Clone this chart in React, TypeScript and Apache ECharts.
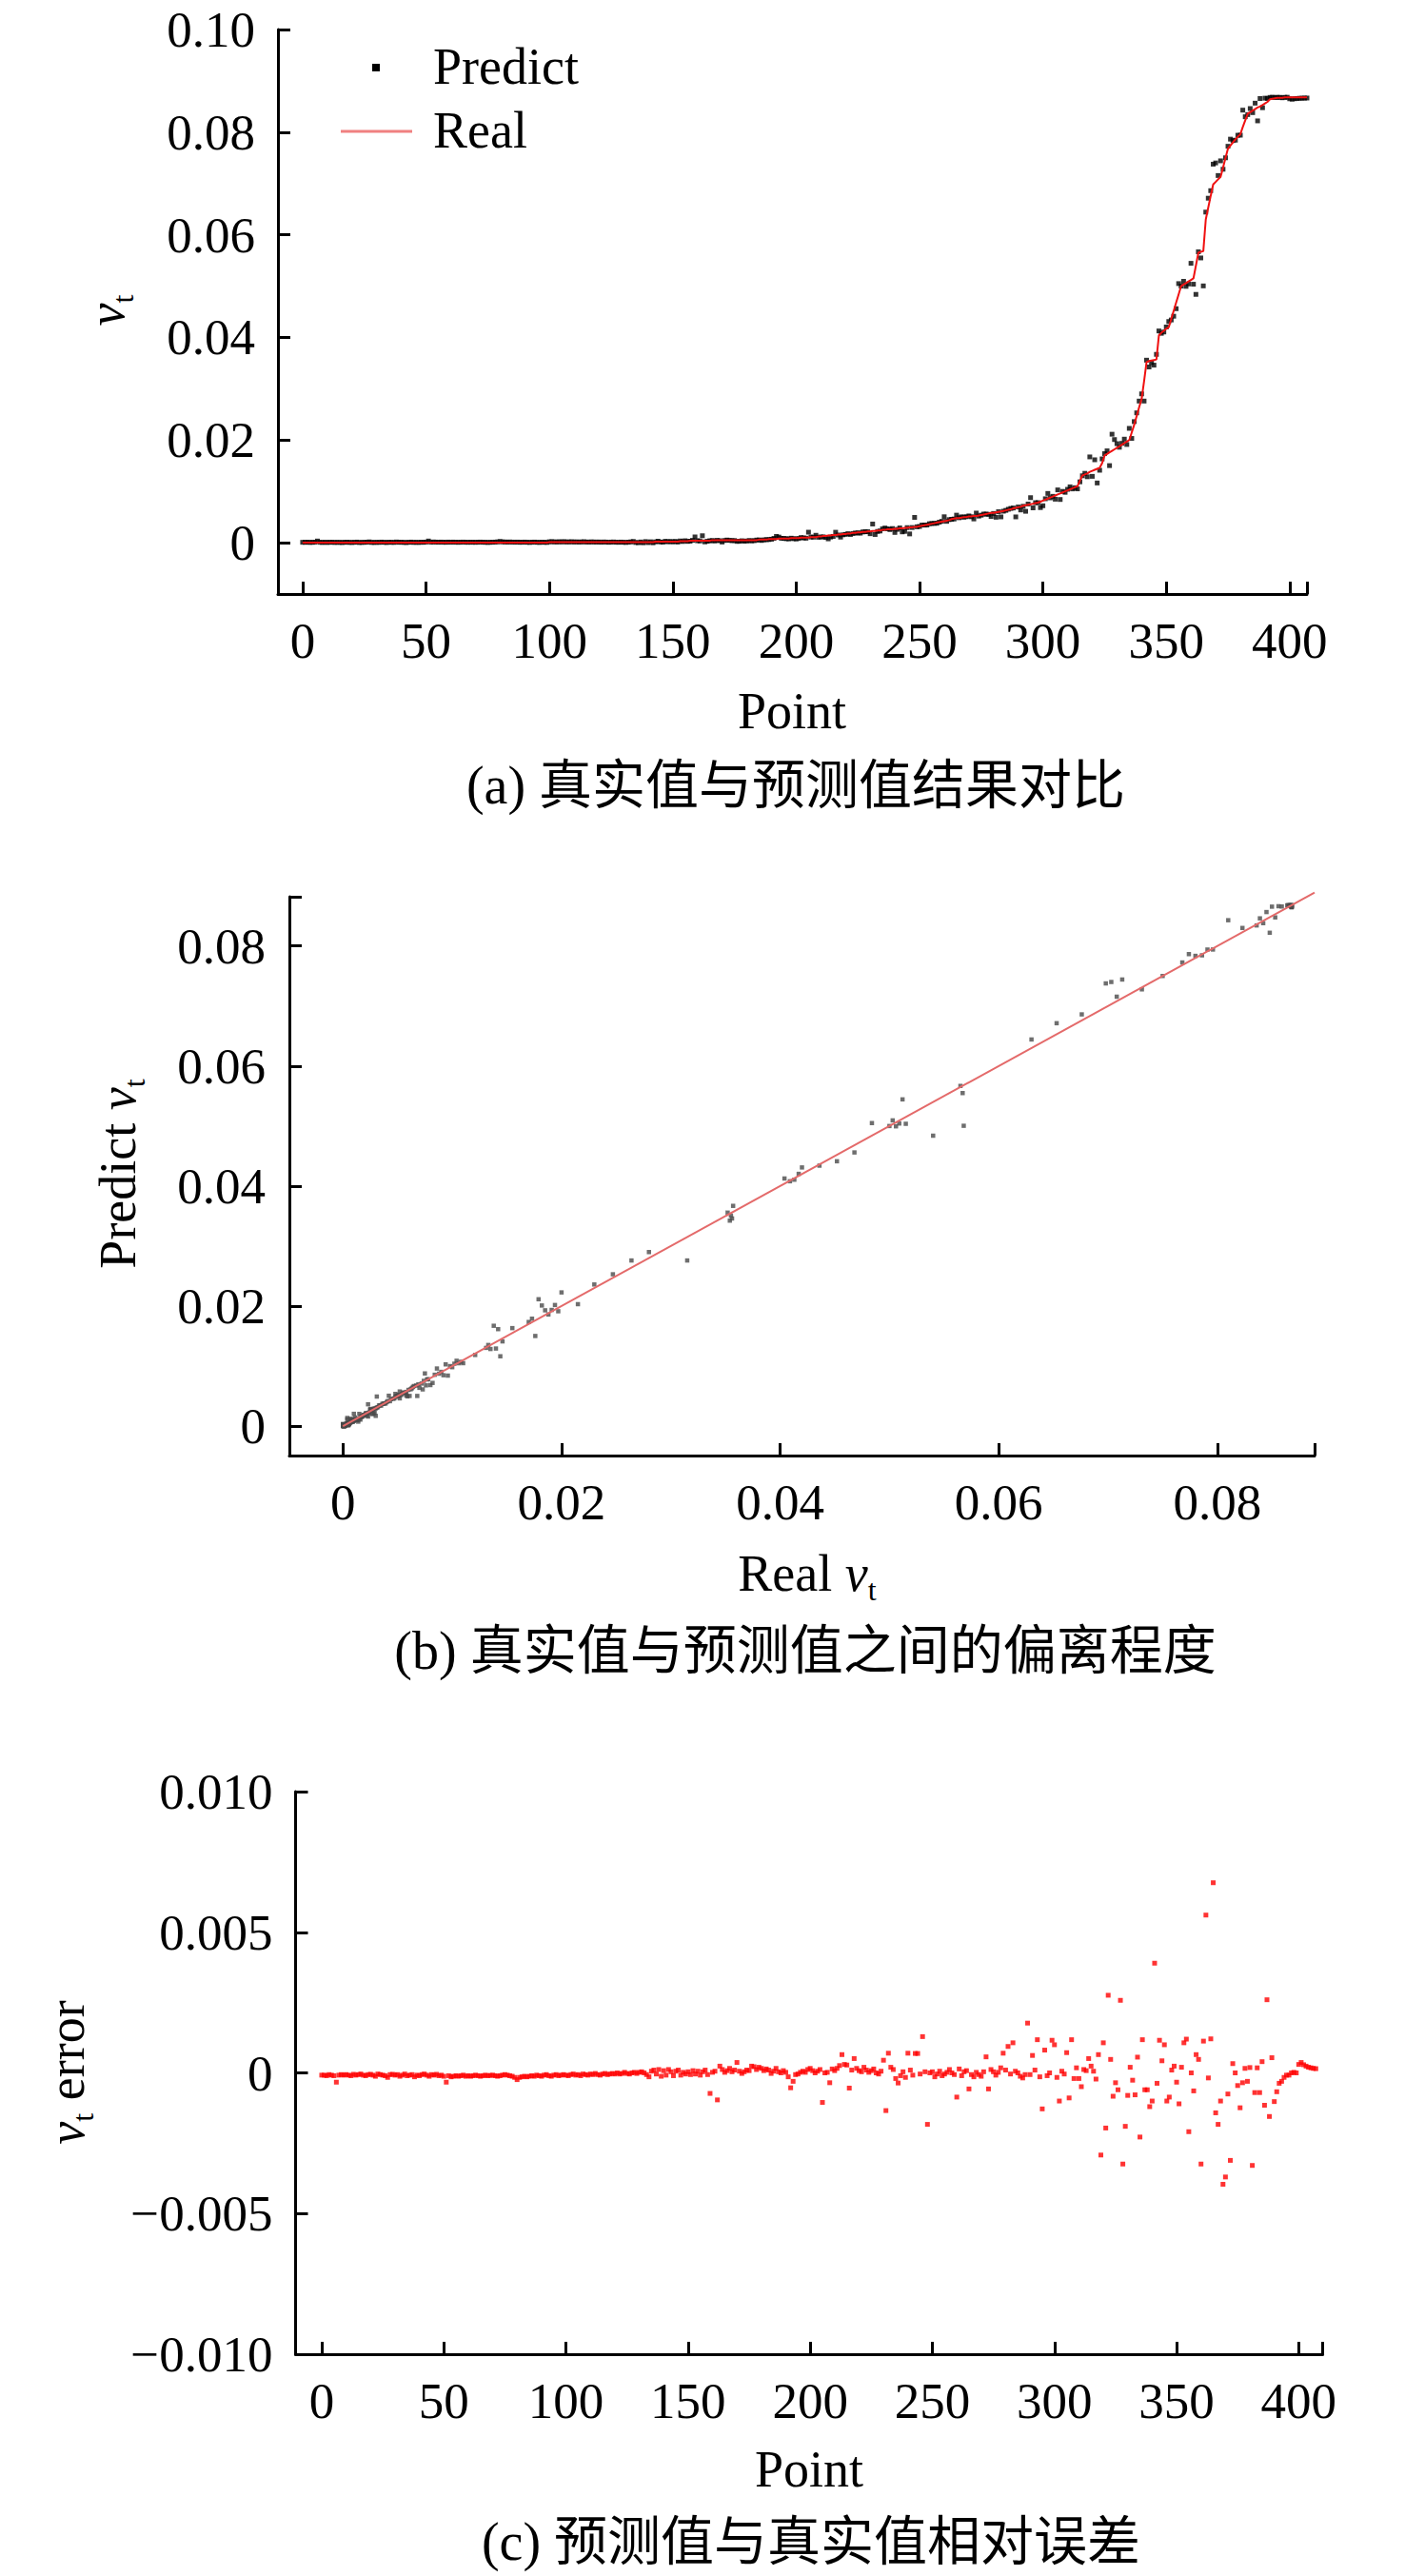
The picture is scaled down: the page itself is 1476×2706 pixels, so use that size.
import React, { useEffect, useRef } from 'react';
import * as echarts from 'echarts';

// Real v_t per point (index 0..407)
const REAL: number[] = [
  0,0,0,0,0,0,0,0,0,0,
  0,0,0,0,0,0,0,0,0,0,
  0,0,0,0,0,0,0,0,0,0,
  0,0,0,0,0,0,0,0,0,0,
  0,0,0,0,0,0,0,0,0,0,
  0,0,0,0,0,0,0,0,0,0,
  0,0,0,0,0,0,0,0,0,0,
  0,0,0,0,0,0,0,0,0,0,
  0,0,0,0,0,0,0,0,0,0,
  0,0,0,0,0,0,0,0,0,0,
  0.0001,0.0001,0.0001,0.0001,0.0001,0.0001,0.0001,0.0001,0.0001,0.0001,
  0.0001,0.0001,0.0001,0.0001,0.0001,0.0001,0.0001,0.0001,0.0001,0.0001,
  0.0001,0.0001,0.0001,0.0001,0.0001,0.0001,0.0001,0.0001,0.0001,0.0001,
  0.0001,0.0001,0.0001,0.0001,0.0001,0.0001,0.0001,0.0001,0.0001,0.0001,
  0.0001,0.0001,0.0001,0.0002,0.0002,0.0002,0.0002,0.0002,0.0002,0.0002,
  0.0002,0.0002,0.0002,0.0003,0.0003,0.0003,0.0003,0.0004,0.0004,0.0004,
  0.0004,0.0004,0.0004,0.0004,0.0004,0.0004,0.0005,0.0005,0.0005,0.0005,
  0.0005,0.0005,0.0005,0.0005,0.0005,0.0005,0.0005,0.0005,0.0005,0.0005,
  0.0005,0.0005,0.0005,0.0005,0.0005,0.0006,0.0006,0.0006,0.0006,0.0007,
  0.0007,0.0007,0.0007,0.0008,0.0008,0.0008,0.0008,0.0008,0.0009,0.0009,
  0.0009,0.0009,0.0010,0.0010,0.0010,0.0010,0.0011,0.0011,0.0011,0.0012,
  0.0012,0.0013,0.0013,0.0014,0.0014,0.0015,0.0015,0.0016,0.0016,0.0017,
  0.0017,0.0018,0.0018,0.0019,0.0019,0.0020,0.0020,0.0021,0.0021,0.0022,
  0.0022,0.0023,0.0023,0.0024,0.0024,0.0025,0.0025,0.0026,0.0026,0.0026,
  0.0027,0.0027,0.0028,0.0028,0.0029,0.0029,0.0030,0.0030,0.0031,0.0031,
  0.0032,0.0033,0.0034,0.0035,0.0036,0.0037,0.0038,0.0039,0.0040,0.0041,
  0.0042,0.0043,0.0044,0.0046,0.0047,0.0048,0.0048,0.0049,0.0050,0.0050,
  0.0051,0.0051,0.0052,0.0052,0.0053,0.0054,0.0055,0.0056,0.0057,0.0058,
  0.0058,0.0059,0.0060,0.0061,0.0062,0.0063,0.0064,0.0065,0.0067,0.0068,
  0.0069,0.0070,0.0072,0.0073,0.0074,0.0075,0.0076,0.0077,0.0078,0.0080,
  0.0082,0.0084,0.0086,0.0088,0.0090,0.0092,0.0094,0.0096,0.0098,0.0100,
  0.0102,0.0104,0.0106,0.0108,0.0110,0.0121,0.0131,0.0133,0.0135,0.0138,
  0.0140,0.0142,0.0144,0.0146,0.0155,0.0170,0.0173,0.0176,0.0179,0.0182,
  0.0185,0.0188,0.0191,0.0194,0.0197,0.0200,0.0215,0.0230,0.0247,0.0264,
  0.0280,0.0315,0.0352,0.0354,0.0355,0.0356,0.0357,0.0404,0.0409,0.0413,
  0.0417,0.0420,0.0436,0.0452,0.0468,0.0484,0.0500,0.0503,0.0506,0.0509,
  0.0512,0.0515,0.0540,0.0565,0.0567,0.0568,0.0630,0.0653,0.0676,0.0698,
  0.0703,0.0708,0.0713,0.0731,0.0750,0.0768,0.0774,0.0780,0.0786,0.0791,
  0.0796,0.0810,0.0823,0.0836,0.0839,0.0842,0.0845,0.0848,0.0850,0.0853,
  0.0856,0.0859,0.0864,0.0865,0.0866,0.0867,0.0867,0.0867,0.0868,0.0868,
  0.0868,0.0868,0.0868,0.0868,0.0868,0.0868,0.0868,0.0868,
];

// v_t error (real - predict) per point (index 0..407)
const ERROR: number[] = [
  -0.00008,-0.00008,-0.00010,-0.00006,-0.00008,-0.00010,-0.00033,-0.00008,-0.00006,-0.00008,
  -0.00006,-0.00008,-0.00010,-0.00005,-0.00008,-0.00006,-0.00004,-0.00008,-0.00010,-0.00006,
  -0.00005,-0.00008,-0.00012,-0.00004,-0.00006,-0.00008,-0.00010,-0.00016,-0.00006,-0.00005,
  -0.00008,-0.00006,-0.00012,-0.00008,-0.00004,-0.00010,-0.00008,-0.00006,-0.00014,-0.00008,
  -0.00010,-0.00006,-0.00004,-0.00008,-0.00012,-0.00006,-0.00008,-0.00005,-0.00010,-0.00008,
  -0.00012,-0.00033,-0.00010,-0.00014,-0.00012,-0.00010,-0.00012,-0.00010,-0.00008,-0.00012,
  -0.00010,-0.00012,-0.00010,-0.00008,-0.00010,-0.00012,-0.00010,-0.00008,-0.00010,-0.00009,
  -0.00008,-0.00010,-0.00012,-0.00010,-0.00008,-0.00006,-0.00008,-0.00010,-0.00012,-0.00016,
  -0.00024,-0.00016,-0.00014,-0.00012,-0.00014,-0.00012,-0.00010,-0.00012,-0.00008,-0.00010,
  -0.00012,-0.00008,-0.00006,-0.00010,-0.00012,-0.00008,-0.00006,-0.00010,-0.00008,-0.00006,
  -0.00008,-0.00010,-0.00006,-0.00004,-0.00008,-0.00006,-0.00010,-0.00004,-0.00006,-0.00008,
  -0.00004,-0.00006,-0.00002,-0.00006,-0.00008,-0.00004,-0.00002,-0.00006,-0.00004,-0.00002,
  -0.00004,0.00000,-0.00004,-0.00002,0.00002,-0.00002,-0.00004,0.00000,0.00002,-0.00002,
  0.00002,0.00004,0.00000,-0.00006,-0.00014,0.00006,0.00010,-0.00004,0.00012,-0.00012,
  0.00008,-0.00008,0.00012,0.00004,-0.00010,0.00006,0.00010,-0.00008,0.00002,-0.00004,
  0.00004,-0.00006,0.00008,-0.00004,0.00006,-0.00008,0.00004,0.00010,-0.00006,-0.00073,
  0.00002,0.00006,-0.00096,0.00024,0.00012,0.00002,0.00008,0.00016,0.00004,0.00010,
  0.00037,0.00006,-0.00002,0.00004,0.00010,0.00008,0.00024,0.00022,0.00012,0.00020,
  0.00016,0.00008,0.00014,0.00010,-0.00002,0.00006,0.00016,0.00004,0.00000,0.00008,
  0.00002,-0.00014,-0.00053,-0.00030,-0.00006,-0.00004,0.00002,0.00006,0.00002,0.00012,
  0.00016,0.00008,0.00000,0.00006,0.00012,-0.00105,0.00000,0.00002,-0.00035,0.00014,
  0.00008,0.00016,0.00026,0.00065,0.00030,0.00028,-0.00054,0.00010,0.00051,0.00016,
  0.00008,0.00004,0.00020,0.00010,0.00002,0.00008,0.00014,0.00000,-0.00004,0.00006,
  0.00045,-0.00134,0.00070,0.00020,0.00012,-0.00020,-0.00036,-0.00010,0.00004,-0.00016,
  0.00070,0.00010,-0.00008,0.00069,0.00069,-0.00004,0.00129,0.00004,-0.00183,0.00000,
  0.00004,-0.00014,-0.00004,0.00006,-0.00010,-0.00004,0.00002,0.00012,0.00000,-0.00006,
  -0.00086,0.00014,-0.00010,0.00004,0.00008,-0.00057,-0.00006,-0.00014,0.00002,-0.00006,
  -0.00012,0.00004,0.00057,-0.00057,0.00012,0.00004,-0.00008,0.00002,0.00018,0.00070,
  0.00010,0.00094,-0.00004,0.00107,0.00006,0.00000,-0.00012,-0.00018,-0.00006,0.00177,
  -0.00006,0.00062,0.00010,0.00118,-0.00014,-0.00128,0.00081,-0.00010,0.00000,0.00116,
  0.00100,-0.00016,-0.00100,0.00006,-0.00004,0.00072,-0.00089,0.00118,-0.00020,0.00018,
  -0.00020,-0.00049,0.00012,0.00008,0.00051,0.00024,0.00006,-0.00022,0.00065,-0.00292,
  0.00107,-0.00196,0.00276,0.00048,-0.00083,-0.00035,-0.00060,0.00258,-0.00324,-0.00190,
  -0.00080,0.00020,-0.00026,-0.00078,0.00056,-0.00228,0.00118,-0.00060,-0.00060,-0.00120,
  -0.00100,0.00390,-0.00037,0.00116,0.00043,0.00100,-0.00100,-0.00086,0.00010,0.00024,
  -0.00033,-0.00110,0.00020,0.00107,0.00120,-0.00209,0.00000,-0.00064,0.00065,0.00048,
  -0.00324,0.00113,0.00561,-0.00018,0.00121,0.00676,-0.00142,-0.00183,-0.00100,-0.00396,
  -0.00370,-0.00075,-0.00311,0.00033,0.00000,-0.00045,-0.00124,-0.00035,0.00016,-0.00030,
  0.00019,-0.00329,-0.00070,0.00018,-0.00070,0.00040,-0.00115,0.00260,-0.00155,0.00054,
  -0.00102,-0.00067,-0.00037,-0.00030,-0.00016,-0.00008,-0.00008,0.00000,0.00002,0.00000,
  0.00030,0.00037,0.00029,0.00024,0.00020,0.00018,0.00016,0.00015,
];

// Predicted v_t = real - error
const PREDICT: number[] = REAL.map((r, i) => r - (ERROR[i] ?? 0));

const POINT_TICKS = [0, 50, 100, 150, 200, 250, 300, 350, 400];
const A_Y_TICKS = [0, 0.02, 0.04, 0.06, 0.08, 0.1];
const B_TICKS = [0, 0.02, 0.04, 0.06, 0.08];
const C_Y_TICKS = [-0.01, -0.005, 0, 0.005, 0.01];
const IDEAL_LINE = [0, 0.0889];

const SERIF = "'Liberation Serif', 'Times New Roman', serif";
const CAPTION_FONT = "'Liberation Serif', 'Noto Sans CJK SC', sans-serif";
const TICK_FS = 53;
const NAME_FS = 54;

function fmt2(v: number) {
  return v === 0 ? '0' : v.toFixed(2);
}
function fmt3(v: number) {
  if (Math.abs(v) < 1e-12) return '0';
  return (v < 0 ? '\u2212' : '') + Math.abs(v).toFixed(3);
}

function axisBase(extra: any) {
  return {
    type: 'value',
    axisLine: { show: true, onZero: false, lineStyle: { color: '#000', width: 3 } },
    splitLine: { show: false },
    ...extra,
  };
}

function tickStyle(values: number[]) {
  return { show: true, inside: true, length: 13, lineStyle: { color: '#000', width: 3 }, customValues: values };
}

function labelStyle(values: number[], formatter: any, margin: number) {
  return {
    customValues: values,
    formatter,
    fontSize: TICK_FS,
    fontFamily: SERIF,
    color: '#000',
    margin,
  };
}

const RICH = {
  n: { fontFamily: SERIF, fontSize: NAME_FS, lineHeight: 54, verticalAlign: 'top', fill: '#000', color: '#000' },
  v: { fontFamily: SERIF, fontStyle: 'italic', fontSize: NAME_FS, lineHeight: 54, verticalAlign: 'top', fill: '#000', color: '#000' },
  s: { fontFamily: SERIF, fontSize: 32, lineHeight: 32, verticalAlign: 'top', padding: [28, 0, 0, 0], fill: '#000', color: '#000' },
};

function nameText(text: string, x: number, y: number, rotate: boolean, rich = false) {
  return {
    type: 'text',
    x,
    y,
    rotation: rotate ? Math.PI / 2 : 0,
    style: {
      text,
      fontFamily: SERIF,
      fontSize: NAME_FS,
      fill: '#000',
      align: 'center',
      verticalAlign: 'middle',
      ...(rich ? { rich: RICH } : {}),
    },
  };
}

function caption(text: string, x: number, y: number) {
  return {
    type: 'text',
    x,
    y,
    style: {
      text,
      fontFamily: CAPTION_FONT,
      fontSize: 56,
      fill: '#000',
      align: 'center',
      verticalAlign: 'middle',
    },
  };
}

export default function App() {
  const ref = useRef<HTMLDivElement>(null);
  useEffect(() => {
    if (!ref.current) return;
    const chart = echarts.init(ref.current, undefined, { renderer: 'svg' });
    const option: any = {
      animation: false,
      backgroundColor: '#fff',
      grid: [
        { left: 292, top: 31, width: 1081, height: 593, outerBoundsMode: 'none', containLabel: false },
        { left: 304, top: 942, width: 1077, height: 587, outerBoundsMode: 'none', containLabel: false },
        { left: 310.5, top: 1882, width: 1079, height: 591, outerBoundsMode: 'none', containLabel: false },
      ],
      xAxis: [
        axisBase({
          gridIndex: 0, min: -10, max: 407,
          axisTick: tickStyle([...POINT_TICKS, 407]),
          axisLabel: labelStyle(POINT_TICKS, (v: number) => String(v), 22),
        }),
        axisBase({
          gridIndex: 1, min: -0.0049, max: 0.0889,
          axisTick: tickStyle([...B_TICKS, 0.0889]),
          axisLabel: labelStyle(B_TICKS, fmt2, 22),
        }),
        axisBase({
          gridIndex: 2, min: -10.7, max: 409.8,
          axisTick: tickStyle([...POINT_TICKS, 409.8]),
          axisLabel: labelStyle(POINT_TICKS, (v: number) => String(v), 22),
        }),
      ],
      yAxis: [
        axisBase({
          gridIndex: 0, min: -0.01, max: 0.1,
          axisTick: tickStyle(A_Y_TICKS),
          axisLabel: labelStyle(A_Y_TICKS, fmt2, 24),
        }),
        axisBase({
          gridIndex: 1, min: -0.0049, max: 0.0882,
          axisTick: tickStyle([...B_TICKS, 0.0882]),
          axisLabel: labelStyle(B_TICKS, fmt2, 25),
        }),
        axisBase({
          gridIndex: 2, min: -0.01, max: 0.01,
          axisTick: tickStyle(C_Y_TICKS),
          axisLabel: labelStyle(C_Y_TICKS, fmt3, 24),
        }),
      ],
      series: [
        {
          name: 'Predict', type: 'scatter', xAxisIndex: 0, yAxisIndex: 0,
          symbol: 'rect', symbolSize: 5,
          itemStyle: { color: '#000' },
          data: PREDICT.map((p, i) => [i, p]), z: 2,
        },
        {
          name: 'Real', type: 'line', xAxisIndex: 0, yAxisIndex: 0,
          showSymbol: false, symbol: 'none',
          lineStyle: { color: '#f01010', width: 2 },
          data: REAL.map((r, i) => [i, r]), z: 3,
        },
        {
          type: 'scatter', xAxisIndex: 1, yAxisIndex: 1,
          symbol: 'rect', symbolSize: 4.5,
          itemStyle: { color: '#4a4a4a' },
          data: REAL.map((r, i) => [r, PREDICT[i]]), z: 2,
        },
        {
          type: 'line', xAxisIndex: 1, yAxisIndex: 1,
          showSymbol: false, symbol: 'none', clip: false,
          lineStyle: { color: '#e46a6a', width: 2 },
          data: IDEAL_LINE.map((v) => [v, v]), z: 3,
        },
        {
          type: 'scatter', xAxisIndex: 2, yAxisIndex: 2,
          symbol: 'rect', symbolSize: 5,
          itemStyle: { color: '#ff0000' },
          data: ERROR.map((e, i) => [i, e]), z: 2,
        },
      ],
      graphic: [
        // legend (a)
        { type: 'rect', shape: { x: 391, y: 67, width: 8, height: 8 }, style: { fill: '#000' } },
        { type: 'text', x: 455, y: 70, style: { text: 'Predict', fontFamily: SERIF, fontSize: NAME_FS, fill: '#000', align: 'left', verticalAlign: 'middle' } },
        { type: 'line', shape: { x1: 358, y1: 138, x2: 433, y2: 138 }, style: { stroke: '#f08080', lineWidth: 3 } },
        { type: 'text', x: 455, y: 137, style: { text: 'Real', fontFamily: SERIF, fontSize: NAME_FS, fill: '#000', align: 'left', verticalAlign: 'middle' } },
        // axis names
        nameText('{v|v}{s|t}', 112, 326, true, true),
        nameText('Point', 832, 747, false),
        caption('(a) 真实值与预测值结果对比', 836, 825),
        nameText('{n|Predict }{v|v}{s|t}', 124, 1233, true, true),
        nameText('{n|Real }{v|v}{s|t}', 848, 1653, false, true),
        caption('(b) 真实值与预测值之间的偏离程度', 846, 1734),
        nameText('{v|v}{s|t}{n| error}', 70, 2177, true, true),
        nameText('Point', 850, 2594, false),
        caption('(c) 预测值与真实值相对误差', 852, 2670),
      ],
    };
    chart.setOption(option);
    return () => chart.dispose();
  }, []);
  return (
    <div
      ref={ref}
      style={{ position: 'absolute', left: 0, top: 0, width: 1476, height: 2706, background: '#fff' }}
    />
  );
}
